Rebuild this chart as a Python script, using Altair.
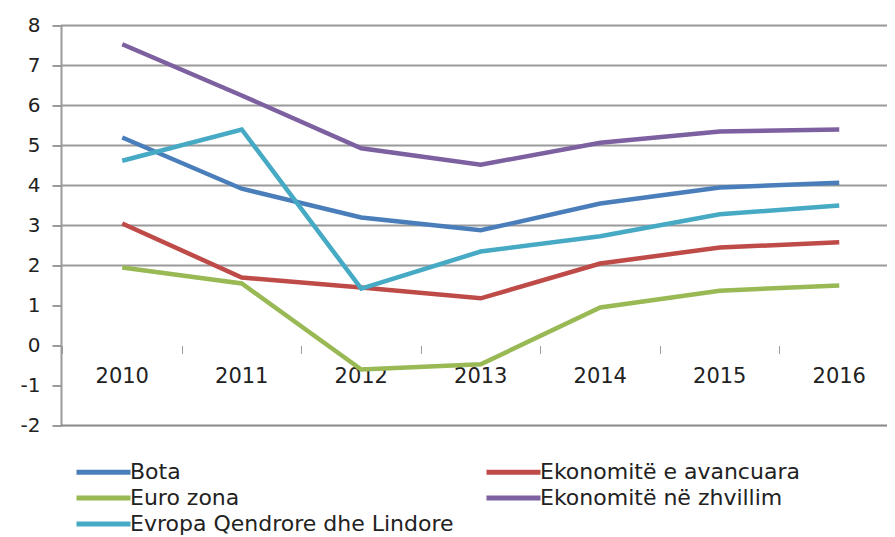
import altair as alt
import pandas as pd

years = ["2010", "2011", "2012", "2013", "2014", "2015", "2016"]
# legend is filled column by column: col 1 = first three, col 2 = last two
series_names = [
    "Bota",
    "Euro zona",
    "Evropa Qendrore dhe Lindore",
    "Ekonomitë e avancuara",
    "Ekonomitë në zhvillim",
]
draw_order = [
    "Bota",
    "Ekonomitë e avancuara",
    "Euro zona",
    "Ekonomitë në zhvillim",
    "Evropa Qendrore dhe Lindore",
]
bota = [5.2, 3.92, 3.2, 2.88, 3.55, 3.95, 4.07]
avancuara = [3.05, 1.7, 1.45, 1.18, 2.05, 2.45, 2.58]
euro_zona = [1.95, 1.55, -0.6, -0.47, 0.95, 1.37, 1.5]
zhvillim = [7.53, 6.25, 4.93, 4.52, 5.07, 5.35, 5.4]
evropa = [4.62, 5.4, 1.42, 2.35, 2.73, 3.28, 3.5]
colors = ["#4A7EBB", "#98B954", "#46AAC5", "#BE4B48", "#7D60A0"]
grid_values = [8, 7, 6, 5, 4, 3, 2]
bottom_value = [-2]
y_ticks = [-2, -1, 0, 1, 2, 3, 4, 5, 6, 7, 8]

values_by_name = {
    "Bota": bota,
    "Ekonomitë e avancuara": avancuara,
    "Euro zona": euro_zona,
    "Ekonomitë në zhvillim": zhvillim,
    "Evropa Qendrore dhe Lindore": evropa,
}
rows = []
for name in draw_order:
    for yr, v in zip(years, values_by_name[name]):
        rows.append({"series": name, "year": yr, "value": v})
df = pd.DataFrame(rows)

FONT = "DejaVu Sans"
yscale = alt.Scale(domain=[-2, 8], nice=False)
y_axis = alt.Axis(
    title=None,
    values=y_ticks,
    labelOverlap=False,
    labelExpr="datum.value < 0 ? '-' + abs(datum.value) : '' + datum.value",
    grid=False,
    domain=True,
    domainColor="#9A9A9A",
    domainWidth=2,
    tickSize=9,
    tickColor="#9A9A9A",
    tickWidth=2,
    labelPadding=12,
    labelFont=FONT,
    labelFontSize=20,
    labelColor="#222222",
)

grid = alt.Chart(pd.DataFrame({"g": grid_values})).mark_rule(
    color="#9A9A9A", strokeWidth=2
).encode(y=alt.Y("g:Q", scale=yscale, axis=y_axis))

bottom = alt.Chart(pd.DataFrame({"g": bottom_value})).mark_rule(
    color="#8A8A8A", strokeWidth=2
).encode(y=alt.Y("g:Q", scale=yscale, axis=y_axis))

base = alt.Chart(df).mark_line(strokeWidth=4.5).encode(
    x=alt.X(
        "year:N",
        sort=years,
        scale=alt.Scale(type="band", range=[1.5, 838], paddingInner=0, paddingOuter=0),
        axis=alt.Axis(
            title=None,
            orient="bottom",
            offset=-80,
            domain=False,
            grid=False,
            bandPosition=0,
            tickSize=8,
            tickColor="#9A9A9A",
            tickWidth=1,
            labelPadding=12,
            labelFont=FONT,
            labelFontSize=21,
            labelColor="#222222",
            labelAngle=0,
            labelAlign="center",
        ),
    ),
    y=alt.Y("value:Q", scale=yscale, axis=y_axis),
    color=alt.Color(
        "series:N",
        sort=series_names,
        scale=alt.Scale(domain=series_names, range=colors),
        legend=alt.Legend(
            title=None,
            orient="none",
            legendX=31,
            legendY=435,
            columns=2,
            columnPadding=22,
            rowPadding=3,
            symbolType="M-3,0H3",
            symbolSize=324,
            symbolStrokeWidth=5,
            labelOffset=15,
            labelFont=FONT,
            labelFontSize=22,
            labelColor="#222222",
            labelLimit=600,
        ),
    ),
    detail="series:N",
)

layers = [grid, bottom]
for name in draw_order:
    layers.append(base.transform_filter(alt.datum.series == name))

chart = (
    alt.layer(*layers)
    .properties(
        width=826,
        height=400,
        autosize=alt.AutoSizeParams(type="none"),
        padding={"left": 53, "top": 17.5, "right": 0, "bottom": 111.5},
    )
    .configure_view(stroke=None)
    .configure(background="white")
)

chart.save("out.html", embed_options={"renderer": "svg", "actions": False})
